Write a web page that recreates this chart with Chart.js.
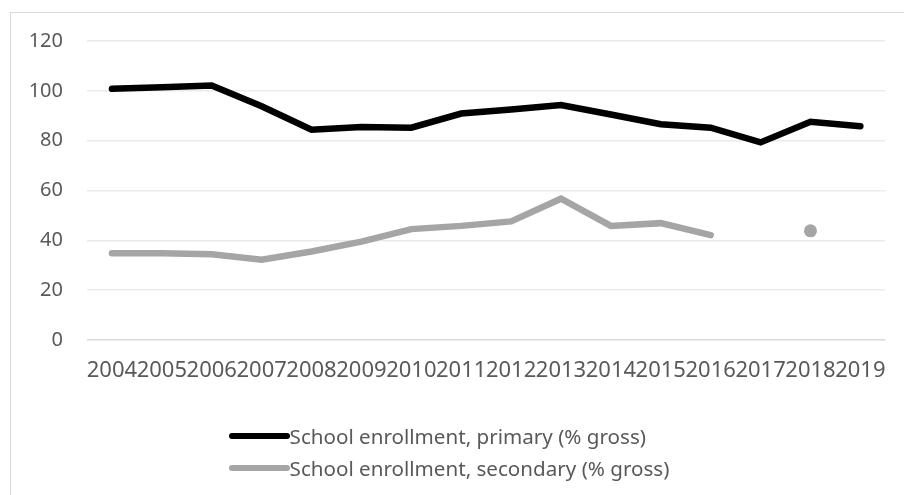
<!DOCTYPE html>
<html>
<head>
<meta charset="utf-8">
<script src="https://cdn.jsdelivr.net/npm/chart.js@4"></script>
<style>
  html, body { margin: 0; padding: 0; background: #fff; overflow: hidden; }
  #wrap { position: relative; width: 904px; height: 495px; }
  #frame { position: absolute; left: 10px; top: 12px; width: 1000px; height: 1000px;
           border: 1.5px solid #d9d9d9; pointer-events: none; }
  #legend { position: absolute; left: 0; top: 420px; width: 898px; display: flex; justify-content: center;
            font-family: 'Noto Sans', sans-serif; font-size: 20.6px; color: #595959; }
  #legend .col { display: flex; flex-direction: column; align-items: flex-start; }
  #legend .item { display: flex; align-items: center; height: 32px; }
  #legend .swatch { width: 61px; height: 6px; border-radius: 3px; }
</style>
</head>
<body>
<div id="wrap">
  <canvas id="enrollChart" width="904" height="495"></canvas>
  <div id="frame"></div>
  <div id="legend"><div class="col"></div></div>
</div>
<script>
const years = ['2004', '2005', '2006', '2007', '2008', '2009', '2010', '2011',
               '2012', '2013', '2014', '2015', '2016', '2017', '2018', '2019'];
const primary = [100.8, 101.4, 102.1, 93.8, 84.4, 85.5, 85.2, 90.9,
                 92.5, 94.3, 90.5, 86.6, 85.2, 79.3, 87.6, 85.8];
const secondary = [34.8, 34.8, 34.4, 32.2, 35.5, 39.5, 44.5, 45.8,
                   47.6, 56.7, 45.8, 46.9, 42.1, null, 43.8, null];
const yTicks = [0, 20, 40, 60, 80, 100, 120];

const textColor = '#595959';
Chart.defaults.font.family = "'Noto Sans', sans-serif";
Chart.defaults.font.size = 20;

// only draw a dot where a value has no neighbours to connect to
function isolatedRadius(c) {
    const d = c.dataset.data;
    const i = c.dataIndex;
    if (d[i] == null) return 0;
    return (d[i - 1] == null && d[i + 1] == null) ? 6.5 : 0;
}

const data = {
    labels: years,
    datasets: [
        {
            label: 'School enrollment, primary (% gross)',
            data: primary,
            borderColor: '#000000',
            backgroundColor: '#000000',
        },
        {
            label: 'School enrollment, secondary (% gross)',
            data: secondary,
            borderColor: '#a5a5a5',
            backgroundColor: '#a5a5a5',
        }
    ]
};
data.datasets.forEach(ds => {
    ds.borderWidth = 6.5;
    ds.borderCapStyle = 'round';
    ds.borderJoinStyle = 'miter';
    ds.pointRadius = isolatedRadius;
    ds.pointBorderWidth = 0;
    ds.pointBackgroundColor = ds.borderColor;
    ds.tension = 0;
    ds.spanGaps = false;
});

const options = {
    responsive: false,
    animation: false,
    layout: { padding: { left: 0, top: 41, right: 15, bottom: 115 } },
    plugins: {
        legend: { display: false },
        tooltip: { enabled: false }
    },
    scales: {
        x: {
            offset: true,
            grid: { display: false, drawTicks: false },
            border: { display: false },
            ticks: { color: textColor, maxRotation: 0, autoSkip: false, padding: 18, font: { size: 22 } },
            afterFit: s => { s.height = 40; }
        },
        y: {
            min: 0,
            max: 120,
            afterBuildTicks: s => { s.ticks = yTicks.map(v => ({ value: v })); },
            grid: {
                drawTicks: false,
                lineWidth: 1.5,
                color: c => (c.tick && c.tick.value === 0) ? '#d9d9d9' : '#ebebeb'
            },
            border: { display: false },
            ticks: { color: textColor, padding: 24, font: { size: 20 } },
            afterFit: s => { s.width = 87; }
        }
    }
};

const chart = new Chart(document.getElementById('enrollChart'), {
    type: 'line',
    data: data,
    options: options
});

// legend below the plot, one entry per row
const col = document.querySelector('#legend .col');
chart.data.datasets.forEach(ds => {
    const item = document.createElement('div');
    item.className = 'item';
    const sw = document.createElement('span');
    sw.className = 'swatch';
    sw.style.background = ds.borderColor;
    const txt = document.createElement('span');
    txt.textContent = ds.label;
    item.appendChild(sw);
    item.appendChild(txt);
    col.appendChild(item);
});
</script>
</body>
</html>
